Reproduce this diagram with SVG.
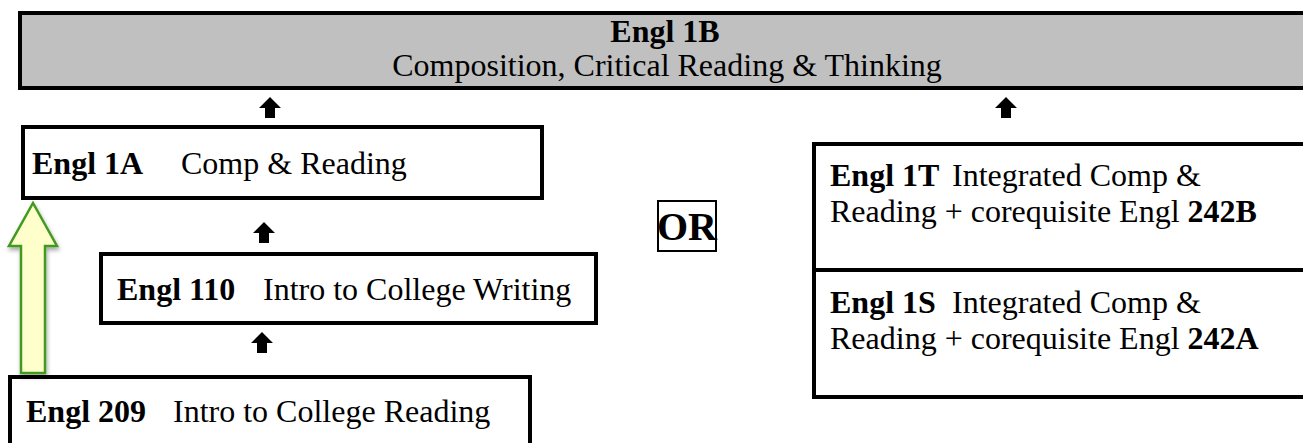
<svg xmlns="http://www.w3.org/2000/svg" width="1303" height="443" viewBox="0 0 1303 443">
<style>
.box{fill:#fff;stroke:#000;stroke-width:4}
.top{fill:#c0c0c0;stroke:#000;stroke-width:4}
text{font-family:"Liberation Serif","Times New Roman",serif;font-size:32px;fill:#000}
.b{font-weight:bold}
.blk{fill:#000;stroke:none}
</style>
<defs>
<filter id="sh" x="-50%" y="-20%" width="200%" height="140%">
<feDropShadow dx="1" dy="3" stdDeviation="2" flood-color="#000" flood-opacity="0.35"/>
</filter>
</defs>
<rect width="1303" height="443" fill="#fff"/>
<g id="engl1b">
<rect class="top" x="20" y="13" width="1300" height="75"/>
<text class="b" x="665" y="42" text-anchor="middle">Engl 1B</text>
<text x="667" y="76" text-anchor="middle">Composition, Critical Reading &amp; Thinking</text>
</g>
<g id="engl1a">
<rect class="box" x="23" y="127" width="519" height="71"/>
<text x="32" y="174"><tspan class="b">Engl 1A</tspan><tspan x="181">Comp &amp; Reading</tspan></text>
</g>
<g id="or">
<rect x="658" y="201" width="58" height="50" fill="#fff" stroke="#000" stroke-width="2"/>
<text class="b" x="687" y="240" text-anchor="middle" style="font-size:40px">OR</text>
</g>
<g id="engl110">
<rect class="box" x="101" y="254" width="495" height="69"/>
<text x="117" y="300"><tspan class="b">Engl 110</tspan><tspan x="263">Intro to College Writing</tspan></text>
</g>
<g id="engl209">
<rect class="box" x="10" y="377" width="520" height="80"/>
<text x="26" y="422"><tspan class="b">Engl 209</tspan><tspan x="173">Intro to College Reading</tspan></text>
</g>
<g id="engl1t-1s">
<rect class="box" x="814" y="144" width="500" height="253"/>
<line x1="814" y1="270" x2="1314" y2="270" stroke="#000" stroke-width="4"/>
<text x="830" y="186"><tspan class="b">Engl 1T</tspan><tspan x="952">Integrated Comp &amp;</tspan></text>
<text x="830" y="222">Reading + corequisite Engl <tspan class="b">242B</tspan></text>
<text x="830" y="313"><tspan class="b">Engl 1S</tspan><tspan x="952">Integrated Comp &amp;</tspan></text>
<text x="830" y="349">Reading + corequisite Engl <tspan class="b">242A</tspan></text>
</g>
<g id="connectors">
<polygon class="blk" points="270,97 281,108 275,108 275,118 265,118 265,108 259,108"/>
<polygon class="blk" points="1006,97 1017,108 1011,108 1011,118 1001,118 1001,108 995,108"/>
<polygon class="blk" points="264,222 275,233 269,233 269,243 259,243 259,233 253,233"/>
<polygon class="blk" points="262,332 273,343 267,343 267,353 257,353 257,343 251,343"/>
<polygon points="33,203 57,246 45,246 45,373 21,373 21,246 9,246" fill="#ffffcc" stroke="#3f9a1f" stroke-width="2.5" stroke-linejoin="miter" filter="url(#sh)"/>
</g>
</svg>
